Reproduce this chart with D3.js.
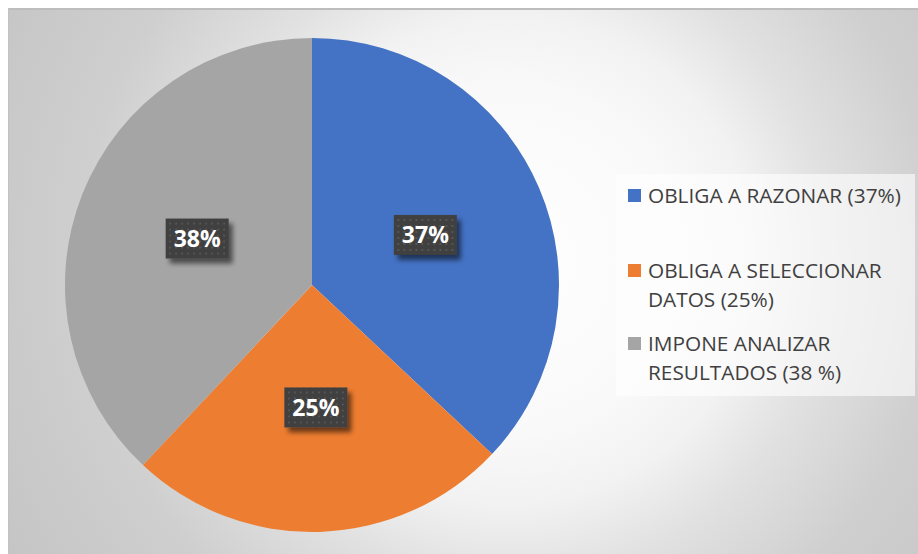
<!DOCTYPE html>
<html>
<head>
<meta charset="utf-8">
<script src="https://cdn.jsdelivr.net/npm/d3@7"></script>
<style>
  html, body { margin: 0; padding: 0; background: #ffffff; }
  svg { display: block; }
</style>
</head>
<body>
<svg id="chart" width="918" height="554"></svg>
<script>
// Categories, shares (percent) and the text shown in the legend and on the slices
const categories = ["OBLIGA A RAZONAR", "OBLIGA A SELECCIONAR DATOS", "IMPONE ANALIZAR RESULTADOS"];
const values = [37, 25, 38];
const legendLines = [
  ["OBLIGA A RAZONAR (37%)"],
  ["OBLIGA A SELECCIONAR", "DATOS (25%)"],
  ["IMPONE ANALIZAR", "RESULTADOS (38 %)"]
];
const sliceLabels = ["37%", "25%", "38%"];
const colors = ["#4472C4", "#ED7D31", "#A5A5A5"];

const svg = d3.select("#chart");
const W = 918, H = 554;

const defs = svg.append("defs");

// Soft radial backdrop of the chart area
const bg = defs.append("radialGradient")
  .attr("id", "bgGrad")
  .attr("gradientUnits", "userSpaceOnUse")
  .attr("cx", 510).attr("cy", 260).attr("r", 580);
[[0, "#ffffff"], [0.3, "#f9f9f9"], [0.42, "#f2f2f2"], [0.55, "#e1e1e1"], [0.74, "#cfcfcf"], [1, "#c5c5c5"]]
  .forEach(([o, c]) => bg.append("stop").attr("offset", o).attr("stop-color", c));

// Dotted texture for the value boxes
const pat = defs.append("pattern")
  .attr("id", "dots")
  .attr("patternUnits", "userSpaceOnUse")
  .attr("width", 6).attr("height", 6);
pat.append("rect").attr("width", 6).attr("height", 6).attr("fill", "#3f3f3f");
pat.append("rect").attr("x", 2).attr("y", 2).attr("width", 2).attr("height", 2).attr("fill", "#555555");

// Drop shadow for the value boxes
const sh = defs.append("filter").attr("id", "shadow")
  .attr("x", "-30%").attr("y", "-30%").attr("width", "160%").attr("height", "170%");
sh.append("feGaussianBlur").attr("in", "SourceAlpha").attr("stdDeviation", 2.5).attr("result", "b");
sh.append("feOffset").attr("in", "b").attr("dx", 4).attr("dy", 5).attr("result", "o");
sh.append("feComponentTransfer").attr("in", "o").attr("result", "s")
  .append("feFuncA").attr("type", "linear").attr("slope", 0.55);
const m = sh.append("feMerge");
m.append("feMergeNode").attr("in", "s");
m.append("feMergeNode").attr("in", "SourceGraphic");

// Chart area with its top/left frame line
svg.append("rect")
  .attr("x", 8).attr("y", 8).attr("width", W - 8).attr("height", H - 8)
  .attr("fill", "url(#bgGrad)");
svg.append("line").attr("x1", 8).attr("x2", W).attr("y1", 9).attr("y2", 9)
  .attr("stroke", "#bdbdbd").attr("stroke-width", 2);
svg.append("line").attr("x1", 8.5).attr("x2", 8.5).attr("y1", 8).attr("y2", H)
  .attr("stroke", "#c2c2c2").attr("stroke-width", 1);

// Pie
const cx = 312, cy = 285, R = 247;
const pie = d3.pie().sort(null).value(d => d)(values);
const arc = d3.arc().innerRadius(0).outerRadius(R);
const labelArc = d3.arc().innerRadius(R / 2).outerRadius(R / 2);

const g = svg.append("g").attr("transform", `translate(${cx},${cy})`);
g.selectAll("path.slice")
  .data(pie)
  .join("path")
  .attr("class", "slice")
  .attr("d", arc)
  .attr("fill", (d, i) => colors[i]);

// Value boxes
const bw = 63, bh = 40;
const lab = g.selectAll("g.lab")
  .data(pie)
  .join("g")
  .attr("class", "lab")
  .attr("transform", d => {
    const [x, y] = labelArc.centroid(d);
    return `translate(${x},${y - 1})`;
  });
lab.append("rect")
  .attr("x", -bw / 2).attr("y", -bh / 2)
  .attr("width", bw).attr("height", bh)
  .attr("fill", "url(#dots)")
  .attr("filter", "url(#shadow)");
lab.append("text")
  .attr("text-anchor", "middle")
  .attr("dy", "0.36em")
  .attr("fill", "#ffffff")
  .attr("font-family", "'Open Sans', sans-serif")
  .attr("font-weight", "bold")
  .attr("font-size", 23)
  .text((d, i) => sliceLabels[i]);

// Legend
const leg = svg.append("g");
leg.append("rect")
  .attr("x", 616).attr("y", 174).attr("width", 299).attr("height", 222)
  .attr("fill", "#ffffff").attr("fill-opacity", 0.6);

const itemBaselines = [203, 278, 351];
const lineGap = 29;
categories.forEach((c, i) => {
  const base = itemBaselines[i];
  leg.append("rect")
    .attr("x", 628).attr("y", base - 14)
    .attr("width", 13).attr("height", 13)
    .attr("fill", colors[i]);
  const t = leg.append("text")
    .attr("x", 648).attr("y", base)
    .attr("fill", "#404040")
    .attr("font-family", "'Open Sans', sans-serif")
    .attr("font-size", 20.8);
  legendLines[i].forEach((ln, j) => {
    t.append("tspan").attr("x", 648).attr("y", base + j * lineGap).text(ln);
  });
});
</script>
</body>
</html>
